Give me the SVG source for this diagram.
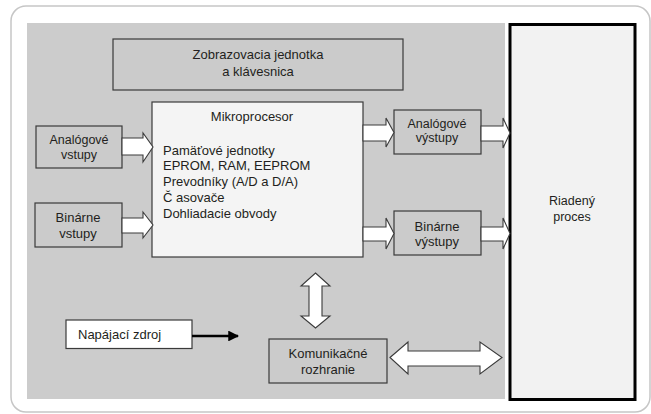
<svg xmlns="http://www.w3.org/2000/svg" width="651" height="414" viewBox="0 0 651 414">
<style>
text{font-family:"Liberation Sans",Arial,sans-serif;font-size:12.5px;fill:#231f20}
.c{text-anchor:middle}
.big{font-size:13px}
.box{fill:#cbcbcb;stroke:#3a3a3a;stroke-width:1.2}
.harrow{fill:#ffffff;stroke:#3a3a3a;stroke-width:1.1;stroke-linejoin:miter}
</style>
<defs>
<marker id="ah" viewBox="0 0 10 10" refX="9" refY="5" markerWidth="4" markerHeight="4" orient="auto" markerUnits="strokeWidth">
<path d="M0,0 L10,5 L0,10 z" fill="#000"/>
</marker>
</defs>
<rect x="11" y="6" width="639" height="406" rx="15" fill="#ffffff" stroke="#c6c6c6" stroke-width="1.5"/>
<rect x="27" y="23" width="478" height="376" fill="#cccccc"/>

<g id="riadeny">
<rect x="510" y="24.5" width="125" height="375" fill="#f2f2f2" stroke="#000" stroke-width="3"/>
<text class="c" x="572" y="205">Riadený</text>
<text class="c" x="572" y="221">proces</text>
</g>

<g id="zobrazovacia">
<rect class="box" x="113" y="39" width="290" height="51"/>
<text class="c big" x="258" y="59">Zobrazovacia jednotka</text>
<text class="c big" x="258" y="76">a klávesnica</text>
</g>

<g id="mikroprocesor">
<rect x="152" y="102" width="211" height="155" fill="#f4f4f4" stroke="#3a3a3a" stroke-width="1.2"/>
<text class="c big" x="252" y="121">Mikroprocesor</text>
<text class="big" x="163" y="155">Pamäťové jednotky</text>
<text class="big" x="163" y="170">EPROM, RAM, EEPROM</text>
<text class="big" x="163" y="186">Prevodníky (A/D a D/A)</text>
<text class="big" x="163" y="202">Č asovače</text>
<text class="big" x="163" y="218">Dohliadacie obvody</text>
</g>

<g id="analog-vstupy">
<rect class="box" x="36" y="126" width="86" height="42"/>
<text class="c" x="79" y="144">Analógové</text>
<text class="c" x="79" y="159">vstupy</text>
</g>

<g id="binarne-vstupy">
<rect class="box" x="35" y="203" width="87" height="44"/>
<text class="c big" x="78" y="222">Binárne</text>
<text class="c big" x="78" y="238">vstupy</text>
</g>

<g id="analog-vystupy">
<rect class="box" x="394" y="110" width="87" height="44"/>
<text class="c" x="437" y="128">Analógové</text>
<text class="c" x="437" y="142">výstupy</text>
</g>

<g id="binarne-vystupy">
<rect class="box" x="394" y="211" width="87" height="44"/>
<text class="c big" x="437" y="231">Binárne</text>
<text class="c big" x="437" y="246">výstupy</text>
</g>

<g id="napajaci">
<rect x="66" y="320" width="126" height="28.5" fill="#ffffff" stroke="#3a3a3a" stroke-width="1.2"/>
<text class="big" x="78" y="339">Napájací zdroj</text>
</g>

<g id="komunikacne">
<rect class="box" x="269" y="339" width="118" height="44"/>
<text class="c big" x="328" y="358">Komunikačné</text>
<text class="c big" x="328" y="374">rozhranie</text>
</g>

<g id="connectors">
<polygon class="harrow" points="122,138 143,138 143,133 153,147 143,162 143,155 122,155"/>
<polygon class="harrow" points="122,218 143,218 143,212 153,225 143,238 143,233 122,233"/>
<polygon class="harrow" points="363,125 386,125 386,118 394,132.5 386,147 386,141 363,141"/>
<polygon class="harrow" points="481,126 503,126 503,118 510,133 503,148 503,141 481,141"/>
<polygon class="harrow" points="363,227 386,227 386,218 394,233.5 386,249 386,241 363,241"/>
<polygon class="harrow" points="481,227 503,227 503,218 510,233.5 503,249 503,241 481,241"/>
<polygon class="harrow" points="315.5,273 330,286 322,286 322,316 330,316 315.5,328 301,316 309,316 309,286 301,286"/>
<polygon class="harrow" points="390,357.5 408,342 408,351 480,351 480,342 502,357.5 480,374 480,366 408,366 408,374"/>
<line x1="192" y1="336" x2="238" y2="336" stroke="#000" stroke-width="2.7" marker-end="url(#ah)"/>
</g>
</svg>
